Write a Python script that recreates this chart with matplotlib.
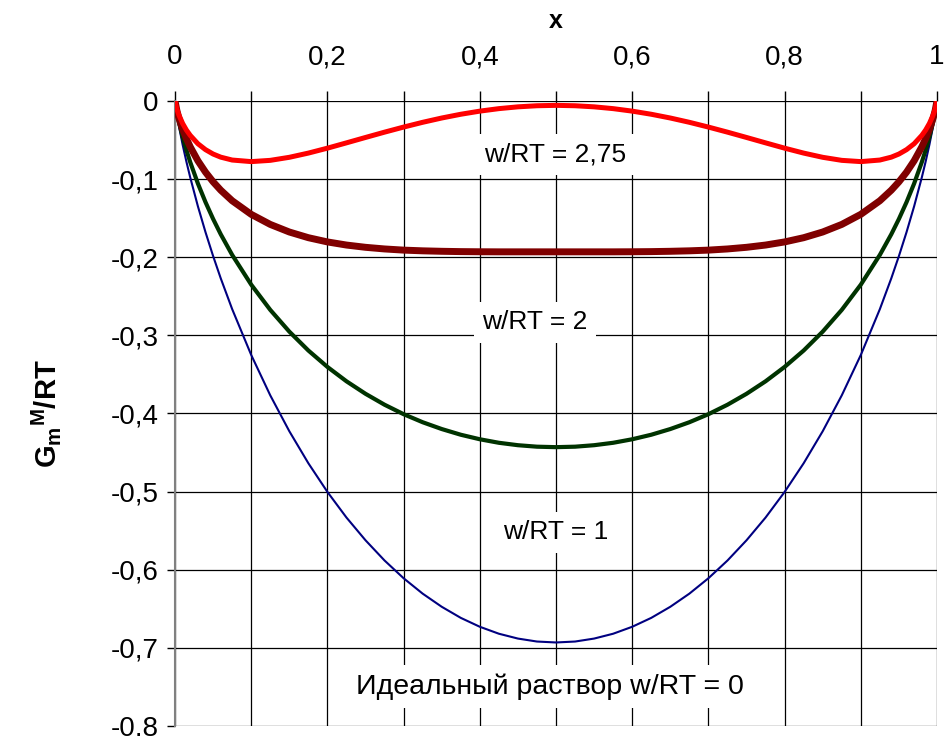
import matplotlib
matplotlib.use("Agg")
import matplotlib.pyplot as plt
import numpy as np

plt.rcParams['font.family'] = ['Liberation Sans', 'DejaVu Sans']

# mole fraction x (curves are symmetric about x = 0.5)
x_half = [0.0, 0.0025, 0.005, 0.01, 0.015, 0.02, 0.03, 0.04, 0.05, 0.06, 0.075, 0.1, 0.125, 0.15,
          0.175, 0.2, 0.225, 0.25, 0.275, 0.3, 0.325, 0.35, 0.375, 0.4, 0.425, 0.45, 0.475, 0.5]
# G_m^M/RT, ideal solution w/RT = 0
ideal_half = [0.0, -0.0175, -0.0315, -0.0560, -0.0779, -0.0980, -0.1347, -0.1679, -0.1985, -0.2270,
              -0.2664, -0.3251, -0.3768, -0.4227, -0.4637, -0.5004, -0.5332, -0.5623, -0.5882,
              -0.6109, -0.6306, -0.6474, -0.6616, -0.6730, -0.6819, -0.6881, -0.6919, -0.6931]
# w/RT = 1
w1_half = [0.0, -0.0150, -0.0265, -0.0461, -0.0631, -0.0784, -0.1056, -0.1295, -0.1510, -0.1706,
           -0.1970, -0.2351, -0.2674, -0.2952, -0.3194, -0.3404, -0.3588, -0.3748, -0.3888,
           -0.4009, -0.4112, -0.4199, -0.4272, -0.4330, -0.4375, -0.4406, -0.4425, -0.4431]
# w/RT = 2
w2_half = [0.0, -0.0125, -0.0216, -0.0362, -0.0483, -0.0588, -0.0765, -0.0911, -0.1035, -0.1142,
           -0.1277, -0.1451, -0.1580, -0.1677, -0.1750, -0.1804, -0.1844, -0.1873, -0.1894,
           -0.1909, -0.1918, -0.1924, -0.1928, -0.1930, -0.1931, -0.1931, -0.1931, -0.1931]
# w/RT = 2.75
w275_half = [0.0, -0.0106, -0.0178, -0.0288, -0.0373, -0.0441, -0.0547, -0.0623, -0.0679, -0.0719,
             -0.0756, -0.0776, -0.0760, -0.0721, -0.0667, -0.0604, -0.0536, -0.0467, -0.0399,
             -0.0334, -0.0273, -0.0218, -0.0170, -0.0130, -0.0098, -0.0075, -0.0061, -0.0056]

def full(xs, ys):
    xs = np.array(xs); ys = np.array(ys)
    return np.concatenate([xs, 1 - xs[-2::-1]]), np.concatenate([ys, ys[-2::-1]])

xticks = [0, 0.2, 0.4, 0.6, 0.8, 1]
xtick_labels = ['0', '0,2', '0,4', '0,6', '0,8', '1']
yticks = [0, -0.1, -0.2, -0.3, -0.4, -0.5, -0.6, -0.7, -0.8]
ytick_labels = ['0', '-0,1', '-0,2', '-0,3', '-0,4', '-0,5', '-0,6', '-0,7', '-0,8']

fig = plt.figure(figsize=(9.44, 7.36), dpi=100)
ax = fig.add_axes([0.1854, 0.0136, 0.8072, 0.8492])

xi, yi = full(x_half, ideal_half)
ax.plot(xi, yi, color='#000080', lw=1.5, zorder=3)
xa, ya = full(x_half, w1_half)
ax.plot(xa, ya, color='#003300', lw=3.0, zorder=3)
xb, yb = full(x_half, w2_half)
ax.plot(xb, yb, color='#800000', lw=5.0, zorder=3, solid_capstyle='round', solid_joinstyle='round')
xc, yc = full(x_half, w275_half)
ax.plot(xc, yc, color='#FF0000', lw=3.6, zorder=4, solid_capstyle='round', solid_joinstyle='round')

ax.set_xlim(0, 1)
ax.set_ylim(-0.8, 0)
ax.xaxis.tick_top()
ax.xaxis.set_label_position('top')
ax.set_xticks(xticks)
ax.set_xticklabels(xtick_labels, fontsize=20)
ax.set_xticks(np.arange(0.1, 1.0, 0.2), minor=True)
ax.set_yticks(yticks)
ax.set_yticklabels(ytick_labels, fontsize=20)
ax.tick_params(axis='x', which='both', direction='out', length=7, width=1, pad=15, colors='black')
ax.tick_params(axis='y', direction='out', length=6, width=1, pad=6)
ax.grid(True, which='both', color='black', lw=0.9, zorder=1)
for s in ['right', 'bottom', 'top']:
    ax.spines[s].set_visible(False)
ax.spines['left'].set_color('#808080')
ax.spines['left'].set_linewidth(1.5)

ax.set_xlabel('x', fontsize=18, fontweight='bold', labelpad=12)
ax.set_ylabel(r'G$_\mathregular{m}$$^\mathregular{M}$/RT', fontsize=21, fontweight='bold', labelpad=34)

bbox = dict(facecolor='white', edgecolor='none', pad=6)
ax.text(0.499, -0.069, 'w/RT = 2,75', fontsize=19, ha='center', va='center', bbox=bbox, zorder=5)
ax.text(0.472, -0.283, 'w/RT = 2', fontsize=19, ha='center', va='center', bbox=bbox, zorder=5)
ax.text(0.499, -0.552, 'w/RT = 1', fontsize=19, ha='center', va='center', bbox=bbox, zorder=5)
ax.text(0.492, -0.750, 'Идеальный раствор w/RT = 0', fontsize=20.5, ha='center', va='center', bbox=bbox, zorder=5)

fig.savefig('out.png', dpi=100)
